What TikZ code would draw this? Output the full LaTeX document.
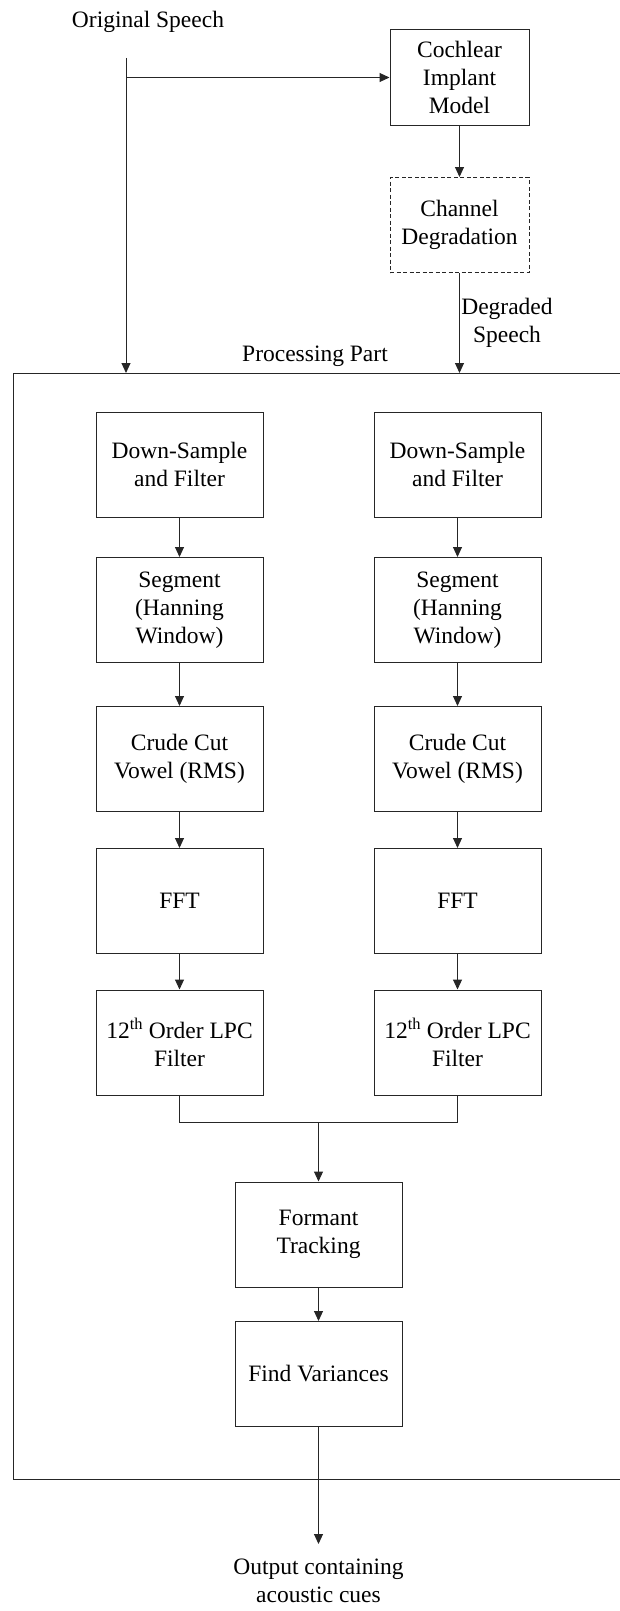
\documentclass[tikz,border=0pt]{standalone}
\usepackage{fontspec}
\setmainfont{Liberation Serif}
\usetikzlibrary{arrows.meta}
\tikzset{
  stage/.style={draw=black!85, line width=1pt, align=center, inner sep=2pt,
    minimum width=167pt, minimum height=105pt},
  front/.style={stage, minimum width=139pt, minimum height=95pt},
  lossy/.style={front, dash pattern=on 4pt off 2.5pt},
  tag/.style={align=center, inner sep=0pt},
  wire/.style={line width=1pt, draw=black!85},
  flow/.style={wire, -{Triangle[length=10pt,width=9pt]}},
}

\begin{document}
\begin{tikzpicture}[x=1pt,y=-1pt,font=\fontsize{23.5}{28}\selectfont]
\useasboundingbox (0,0) rectangle (620,1611);
% source and the implant branch
\node[tag] (orig) at (148,22) {Original Speech};
\node[front] (cim) at (459.5,77.5) {Cochlear\\Implant\\Model};
\node[lossy] (chan) at (459.5,225) {Channel\\Degradation};
\node[tag] (degr) at (507,323) {Degraded\\Speech};
\coordinate (src) at (126,58);
\coordinate (tap) at (src |- cim.west);
\coordinate (inL) at (126,373);
\coordinate (inR) at (459.5,373);
\draw[flow] (src) -- (inL);
\draw[flow] (tap) -- (cim.west);
\draw[flow] (cim) -- (chan);
\draw[flow] (chan) -- (inR);
% processing part (frame runs off the right edge)
\draw[wire] (620,373) -- (13,373) -- (13,1479) -- (620,1479);
\node[tag] (ppart) at (315,356) {Processing Part};
% two identical columns
\foreach \side/\x in {L/179.5,R/457.5} {
  \node[stage] (ds\side) at (\x,464.5) {Down-Sample\\and Filter};
  \node[stage] (seg\side) at (\x,610) {Segment\\(Hanning\\Window)};
  \node[stage] (cut\side) at (\x,759) {Crude Cut\\Vowel (RMS)};
  \node[stage] (fft\side) at (\x,901) {FFT};
  \node[stage] (lpc\side) at (\x,1042.5) {12\textsuperscript{th} Order LPC\\Filter};
  \draw[flow] (ds\side) -- (seg\side);
  \draw[flow] (seg\side) -- (cut\side);
  \draw[flow] (cut\side) -- (fft\side);
  \draw[flow] (fft\side) -- (lpc\side);
}
% merge and tail
\coordinate (join) at (318.5,1122);
\draw[wire] (lpcL.south) |- (join) -| (lpcR.south);
\node[stage] (form) at (318.5,1234.5) {Formant\\Tracking};
\node[stage] (fvar) at (318.5,1374) {Find Variances};
\node[tag, anchor=north, inner ysep=15pt] (out) at (318.5,1544) {Output containing\\acoustic cues};
\draw[flow] (join) -- (form);
\draw[flow] (form) -- (fvar);
\draw[flow] (fvar) -- (out);
\end{tikzpicture}
\end{document}
